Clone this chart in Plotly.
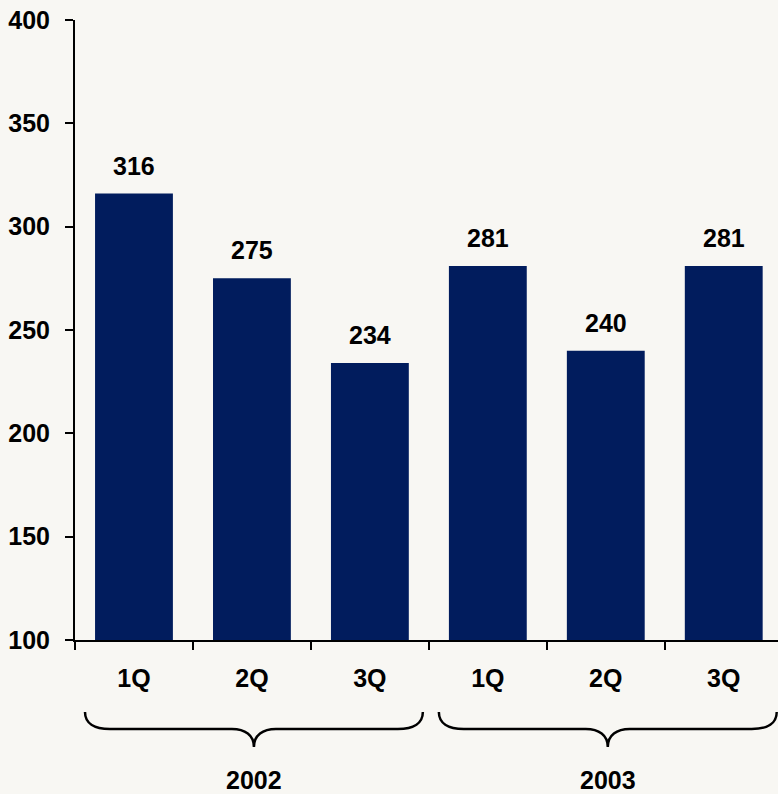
import plotly.graph_objects as go

# Quarterly values, grouped by year
years = ["2002", "2003"]
quarters = ["1Q", "2Q", "3Q"]
values = [316, 275, 234, 281, 240, 281]
categories = [f"{y} {q}" for y in years for q in quarters]
tick_text = [q for _ in years for q in quarters]

y_range = [100, 400]
x_range = [-0.5, 5.46]

W, H = 778, 794
margin = dict(l=75, r=0, t=20, b=154)

FONT = "Liberation Sans, Arial, sans-serif"
FS = 25
NAVY = "#011c5d"

fig = go.Figure(
    go.Bar(
        x=categories,
        y=values,
        marker=dict(color=NAVY, line=dict(width=0)),
        width=0.66,
        hoverinfo="skip",
    )
)

# Value labels above each bar
for c, v in zip(categories, values):
    fig.add_annotation(
        x=c, y=v, text=f"<b>{v}</b>", showarrow=False,
        yanchor="bottom", yshift=12,
        font=dict(family=FONT, size=FS, color="#000000"),
    )

# Curly braces grouping the quarters by year
plot_w = W - margin["l"] - margin["r"]
plot_h = H - margin["t"] - margin["b"]


def to_px_x(i):
    return margin["l"] + (i - x_range[0]) / (x_range[1] - x_range[0]) * plot_w


def px_to_paper_x(px):
    return (px - margin["l"]) / plot_w


def px_to_paper_y(py):
    return (H - margin["b"] - py) / plot_h


def pt(x, y):
    return f"{px_to_paper_x(x):.5f},{px_to_paper_y(y):.5f}"


for k, year in enumerate(years):
    i0 = k * len(quarters)
    i1 = i0 + len(quarters) - 1
    left = to_px_x(i0 - 0.5) + 10
    right = to_px_x(i1 + 0.5) - 6
    mid = (left + right) / 2
    top, bar_y, tip = 712, 729, 747
    path = (
        f"M {pt(left, top)} "
        f"C {pt(left, top + 11)} {pt(left + 9, bar_y)} {pt(left + 25, bar_y)} "
        f"L {pt(mid - 22, bar_y)} "
        f"C {pt(mid - 9, bar_y)} {pt(mid, bar_y + 6)} {pt(mid, tip)} "
        f"C {pt(mid, bar_y + 6)} {pt(mid + 9, bar_y)} {pt(mid + 22, bar_y)} "
        f"L {pt(right - 25, bar_y)} "
        f"C {pt(right - 9, bar_y)} {pt(right, top + 11)} {pt(right, top)}"
    )
    fig.add_shape(
        type="path", path=path, xref="paper", yref="paper",
        line=dict(color="#000000", width=2.5),
    )
    fig.add_annotation(
        x=px_to_paper_x(mid), y=px_to_paper_y(780), xref="paper", yref="paper",
        xanchor="center", yanchor="middle",
        text=f"<b>{year}</b>", showarrow=False,
        font=dict(family=FONT, size=FS, color="#000000"),
    )

fig.update_layout(
    width=W, height=H,
    margin=margin,
    paper_bgcolor="#f8f7f3",
    plot_bgcolor="rgba(0,0,0,0)",
    showlegend=False,
    font=dict(family=FONT, size=FS, color="#000000", weight="bold"),
)

fig.update_xaxes(
    type="category",
    range=x_range,
    tickmode="array",
    tickvals=categories,
    ticktext=tick_text,
    tickson="boundaries",
    ticks="outside", ticklen=8, tickwidth=2, tickcolor="#000000",
    ticklabelstandoff=15,
    showline=True, linecolor="#000000", linewidth=2,
    showgrid=False, zeroline=False,
    tickfont=dict(family=FONT, size=FS, weight="bold"),
)

fig.update_yaxes(
    range=y_range,
    tick0=100, dtick=50,
    ticks="outside", ticklen=8, tickwidth=2, tickcolor="#000000",
    ticklabelstandoff=10,
    showline=True, linecolor="#000000", linewidth=2,
    showgrid=False, zeroline=False,
    tickfont=dict(family=FONT, size=FS, weight="bold"),
)

fig.write_html("out.html")
